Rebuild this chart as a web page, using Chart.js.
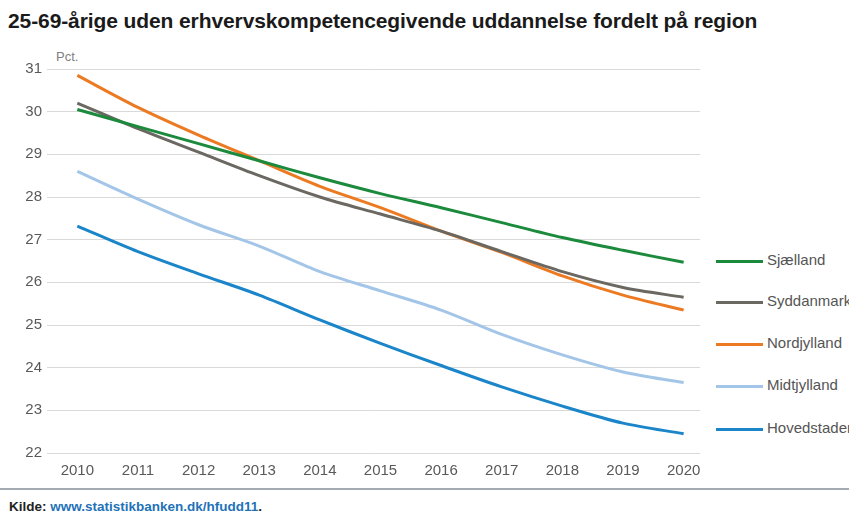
<!DOCTYPE html>
<html>
<head>
<meta charset="utf-8">
<script src="https://cdn.jsdelivr.net/npm/chart.js@4/dist/chart.umd.min.js"></script>
<style>
  html, body { margin: 0; padding: 0; background: #fff; overflow: hidden; width: 849px; height: 517px; }
  body { position: relative; font-family: "Liberation Sans", Arial, sans-serif; }
  #title { position: absolute; left: 8px; top: 9px; font-weight: bold; font-size: 21px; color: #1a1a1a; white-space: nowrap; letter-spacing: -0.1px; }
  #unit { position: absolute; left: 56px; top: 49px; font-size: 13px; color: #808080; }
  #wrap { position: absolute; left: 0; top: 45px; width: 710px; height: 438px; }
  #legend { position: absolute; left: 716px; top: 0; width: 200px; }
  .item { position: absolute; left: 0; white-space: nowrap; font-size: 15px; color: #555; }
  .item span.ln { display: inline-block; width: 47px; height: 3px; vertical-align: middle; margin-right: 4px; }
  #rule { position: absolute; left: 0; top: 488px; width: 849px; height: 2px; background: #a3aab2; }
  #src { position: absolute; left: 9px; top: 499px; font-weight: bold; font-size: 13.5px; color: #222; }
  #src .u { color: #1f72b8; }
</style>
</head>
<body>
<div id="title">25-69-årige uden erhvervskompetencegivende uddannelse fordelt på region</div>
<div id="unit">Pct.</div>
<div id="wrap"><canvas id="myChart"></canvas></div>
<div id="legend"></div>
<div id="rule"></div>
<div id="src">Kilde: <span class="u">www.statistikbanken.dk/hfudd11</span>.</div>
<script>
const years = [2010, 2011, 2012, 2013, 2014, 2015, 2016, 2017, 2018, 2019, 2020]
const yTicks = [22, 23, 24, 25, 26, 27, 28, 29, 30, 31]

const sjaelland   = [30.05, 29.65, 29.25, 28.85, 28.45, 28.08, 27.75, 27.4, 27.05, 26.75, 26.47]
const syddanmark  = [30.2, 29.6, 29.05, 28.5, 28.0, 27.6, 27.2, 26.72, 26.25, 25.88, 25.65]
const nordjylland = [30.85, 30.1, 29.45, 28.85, 28.25, 27.75, 27.2, 26.7, 26.15, 25.7, 25.35]
const midtjylland = [28.6, 27.95, 27.35, 26.85, 26.25, 25.8, 25.35, 24.78, 24.3, 23.9, 23.65]
const hovedstaden = [27.32, 26.72, 26.2, 25.7, 25.12, 24.57, 24.05, 23.55, 23.1, 22.7, 22.45]

const series = [
  {label: 'Sjælland', values: sjaelland, color: '#1c8a3c'},
  {label: 'Syddanmark', values: syddanmark, color: '#6b6861'},
  {label: 'Nordjylland', values: nordjylland, color: '#ec7a22'},
  {label: 'Midtjylland', values: midtjylland, color: '#a3c6e8'},
  {label: 'Hovedstaden', values: hovedstaden, color: '#1b85c9'}
]

const legendY = [261, 302, 344, 386, 429]

function toPoints(vals) {
  return years.map((y, i) => ({x: y, y: vals[i]}))
}

const ctx = document.getElementById('myChart').getContext('2d')
const chart = new Chart(ctx, {
  type: 'line',
  data: {
    datasets: series.map(s => ({
      label: s.label,
      data: toPoints(s.values),
      borderColor: s.color,
      backgroundColor: s.color,
      borderWidth: 3,
      pointRadius: 0,
      tension: 0.3,
      fill: false
    }))
  },
  options: {
    responsive: true,
    maintainAspectRatio: false,
    animation: false,
    layout: {padding: {top: 24, right: 10, left: 0, bottom: 0}},
    plugins: {legend: {display: false}, tooltip: {enabled: false}},
    scales: {
      x: {
        type: 'linear',
        min: 2009.5,
        max: 2020.27,
        afterBuildTicks: axis => { axis.ticks = years.map(v => ({value: v})) },
        afterFit: axis => { axis.height = 30 },
        grid: {display: false, drawTicks: false},
        border: {display: false},
        ticks: {
          color: '#595959',
          padding: 9,
          maxRotation: 0,
          font: {family: '"Liberation Sans", Arial', size: 15},
          callback: v => String(v)
        }
      },
      y: {
        min: 22,
        max: 31,
        afterBuildTicks: axis => { axis.ticks = yTicks.map(v => ({value: v})) },
        afterFit: axis => { axis.width = 47 },
        grid: {color: '#d9d9d9', lineWidth: 1, drawTicks: false},
        border: {display: false},
        ticks: {
          color: '#595959',
          padding: 5,
          font: {family: '"Liberation Sans", Arial', size: 15}
        }
      }
    }
  }
})

// legend from the datasets
const lg = document.getElementById('legend')
chart.data.datasets.forEach((d, i) => {
  const el = document.createElement('div')
  el.className = 'item'
  el.style.top = (legendY[i] - 10) + 'px'
  el.innerHTML = `<span class="ln" style="background:${d.borderColor}"></span>${d.label}`
  lg.appendChild(el)
})
</script>
</body>
</html>
